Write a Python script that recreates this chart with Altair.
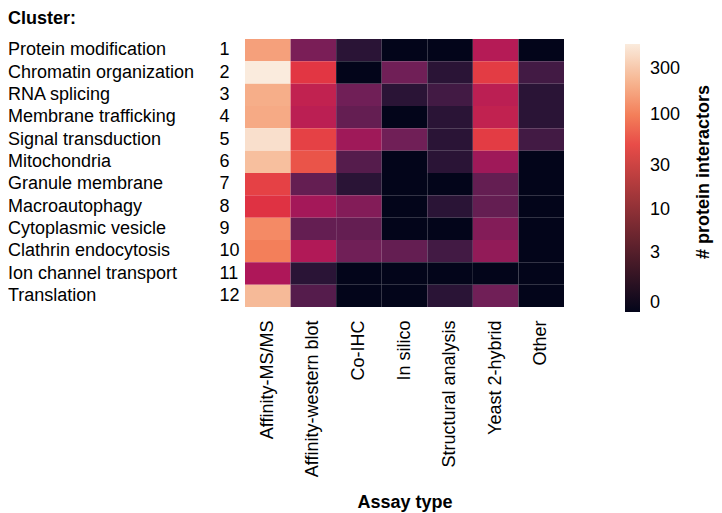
import altair as alt
import pandas as pd

# ---- data ----
clusters = ["Protein modification", "Chromatin organization", "RNA splicing",
            "Membrane trafficking", "Signal transduction", "Mitochondria",
            "Granule membrane", "Macroautophagy", "Cytoplasmic vesicle",
            "Clathrin endocytosis", "Ion channel transport", "Translation"]
cluster_ids = [str(i) for i in range(1, 13)]
assays = ["Affinity-MS/MS", "Affinity-western blot", "Co-IHC", "In silico",
          "Structural analysis", "Yeast 2-hybrid", "Other"]
# rows = clusters, columns = assays
values = [
    [163, 6, 1, 0, 0, 16, 0],
    [540, 37, 0, 5, 1, 40, 2],
    [200, 20, 5, 1, 2, 18, 1],
    [190, 18, 4, 0, 1, 20, 1],
    [445, 43, 11, 5, 1, 40, 2],
    [262, 56, 3, 0, 1, 11, 0],
    [43, 4, 1, 0, 0, 4, 0],
    [34, 12, 7, 0, 1, 4, 0],
    [119, 4, 4, 0, 0, 7, 0],
    [101, 15, 5, 4, 2, 9, 0],
    [14, 1, 0, 0, 0, 0, 0],
    [243, 3, 0, 0, 1, 5, 0],
]
legend_ticks = [0, 3, 10, 30, 100, 300]
color_max = 540
rocket = ["#03051a", "#35193e", "#701f57", "#ad1759",
          "#e13342", "#f37651", "#f6b48f", "#faebdd"]

FONT = "Liberation Sans"

rows = []
for ci, cid in enumerate(cluster_ids):
    for ai, a in enumerate(assays):
        rows.append({"cid": cid, "cluster": clusters[ci], "assay": a,
                     "count": values[ci][ai]})
df = pd.DataFrame(rows)
names_df = pd.DataFrame({"cid": cluster_ids, "cluster": clusters})
title_df = pd.DataFrame({"t": ["Cluster:"]})
legend_title_df = pd.DataFrame({"t": ["# protein interactors"]})

heat = alt.Chart(df).mark_rect(strokeWidth=0).encode(
    x=alt.X("assay:N", sort=assays,
            axis=alt.Axis(title="Assay type", labelAngle=-90, labelAlign="right",
                          labelBaseline="middle", labelPadding=13, ticks=False,
                          tickSize=0, domain=False, labelFontSize=18,
                          labelColor="black", labelLimit=400,
                          titleFontSize=18, titleFontWeight="bold",
                          titleColor="black", titleY=200,
                          titleBaseline="alphabetic")),
    y=alt.Y("cid:N", sort=cluster_ids,
            axis=alt.Axis(title=None, labelAlign="left", labelPadding=26,
                          ticks=False, tickSize=0, domain=False,
                          labelFontSize=18, labelColor="black")),
    color=alt.Color("count:Q",
                    scale=alt.Scale(type="symlog", constant=1,
                                    domain=[0, color_max], range=rocket,
                                    interpolate="rgb", nice=False),
                    legend=alt.Legend(orient="none", legendX=380, legendY=5,
                                      direction="vertical", title=None,
                                      gradientLength=268, gradientThickness=15,
                                      gradientStrokeWidth=0,
                                      values=legend_ticks,
                                      labelExpr="pad(datum.label, 3, '\u2007', 'left')",
                                      labelOffset=10, labelFontSize=18,
                                      labelColor="black")),
)

names = alt.Chart(names_df).mark_text(
    align="left", baseline="middle", fontSize=18, font=FONT, color="black"
).encode(
    y=alt.Y("cid:N", sort=cluster_ids),
    x=alt.value(-237),
    text="cluster:N",
)

cluster_title = alt.Chart(title_df).mark_text(
    align="left", baseline="alphabetic", fontSize=18, fontWeight="bold",
    font=FONT, color="black"
).encode(x=alt.value(-237), y=alt.value(-15), text="t:N")

legend_title = alt.Chart(legend_title_df).mark_text(
    align="center", baseline="alphabetic", fontSize=18, fontWeight="bold",
    font=FONT, color="black", angle=270
).encode(x=alt.value(464), y=alt.value(133), text="t:N")

chart = alt.layer(heat, names, cluster_title, legend_title).properties(
    width=319, height=268,
    autosize=alt.AutoSizeParams(type="none"),
    padding={"left": 237, "top": 31, "right": 150, "bottom": 206},
).configure(font=FONT).configure_view(strokeWidth=0).configure_axis(
    labelFont=FONT, titleFont=FONT
).configure_legend(labelFont=FONT)

chart.save("out.html", embed_options={"renderer": "svg", "actions": False})
